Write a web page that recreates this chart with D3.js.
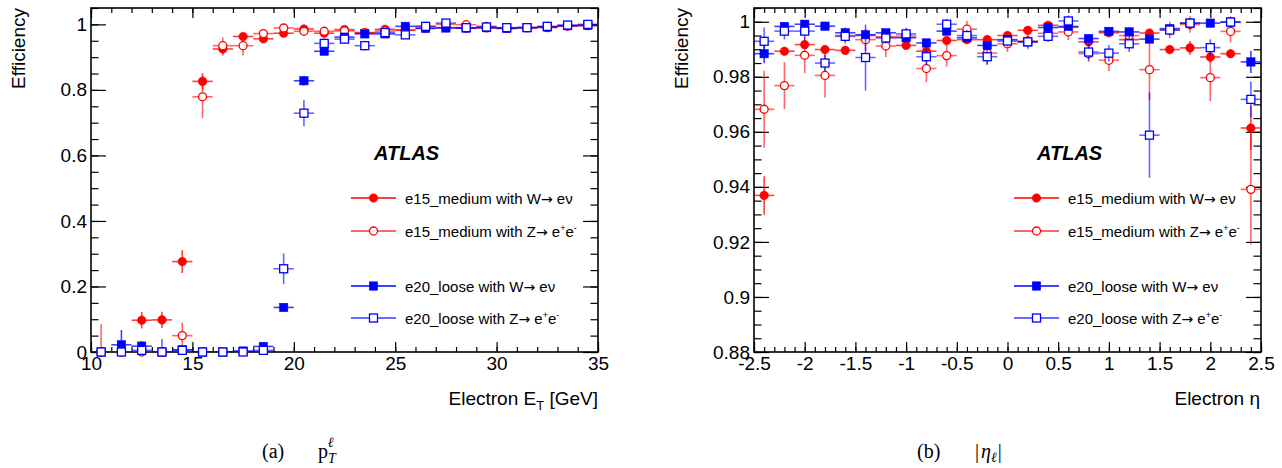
<!DOCTYPE html>
<html><head><meta charset="utf-8">
<script src="https://cdn.jsdelivr.net/npm/d3@7"></script>
<style>body{margin:0;background:#fff}svg{display:block}text{font-family:"Liberation Sans",Arial,sans-serif}</style>
</head><body>
<svg id="c" width="1282" height="468"></svg>
<script>
// ---------- DATA ----------
const etBins = [10.5,11.5,12.5,13.5,14.5,15.5,16.5,17.5,18.5,19.5,20.5,21.5,22.5,23.5,24.5,25.5,26.5,27.5,28.5,29.5,30.5,31.5,32.5,33.5,34.5];
const etRedW   = [0,0,0.097,0.098,0.276,0.826,0.925,0.963,0.956,0.973,0.986,0.973,0.984,0.974,0.985,0.982,0.988,0.990,0.988,0.989,0.988,0.990,0.992,0.995,0.996];
const etRedWErr= [0.005,0.005,0.025,0.025,0.035,0.025,0.02,0.01,0.008,0.006,0.005,0.005,0.005,0.004,0.004,0.004,0.004,0.004,0.003,0.003,0.003,0.003,0.003,0.003,0.003];
const etRedZ   = [0,0,0,0,0.05,0.779,0.935,0.935,0.972,0.989,0.979,0.979,0.980,0.975,0.980,0.983,0.994,1.000,0.999,0.994,0.988,0.990,0.990,0.995,0.998];
const etRedZErr= [0.085,0.01,0.01,0.01,0.04,0.065,0.025,0.03,0.012,0.008,0.008,0.007,0.006,0.006,0.005,0.005,0.005,0.004,0.004,0.004,0.004,0.004,0.004,0.004,0.004];
const etBluW   = [0,0.022,0.018,0,0.007,0,0,0.003,0.017,0.136,0.828,0.918,0.961,0.971,0.971,0.994,0.988,0.989,0.989,0.990,0.988,0.990,0.992,0.996,0.997];
const etBluWErr= [0.005,0.045,0.015,0.01,0.01,0.008,0.008,0.008,0.008,0.012,0.015,0.008,0.006,0.005,0.004,0.004,0.003,0.003,0.003,0.003,0.003,0.003,0.003,0.003,0.003];
const etBluZ   = [0,0,0.005,0,0.005,0,0,0,0.005,0.254,0.729,0.942,0.955,0.935,0.975,0.968,0.994,1.004,0.990,0.992,0.990,0.990,0.994,0.998,1.000];
const etBluZErr= [0.01,0.01,0.01,0.04,0.01,0.01,0.01,0.01,0.01,0.047,0.04,0.015,0.015,0.015,0.008,0.008,0.006,0.005,0.005,0.005,0.005,0.005,0.005,0.005,0.005];

const etaBins = [-2.4,-2.2,-2.0,-1.8,-1.6,-1.4,-1.2,-1.0,-0.8,-0.6,-0.4,-0.2,0,0.2,0.4,0.6,0.8,1.0,1.2,1.4,1.6,1.8,2.0,2.2,2.4];
const etaRedW   = [0.9369,0.9893,0.9917,0.9899,0.9896,0.9950,0.9945,0.9914,0.9893,0.9932,0.9935,0.9935,0.9950,0.9969,0.9987,0.9980,0.9927,0.9960,0.9935,0.9959,0.9899,0.9905,0.9872,0.9884,0.9614];
const etaRedWErr= [0.007,0.0015,0.0015,0.0015,0.0015,0.0015,0.0015,0.0015,0.0015,0.0015,0.0015,0.0015,0.0015,0.0015,0.0015,0.0015,0.0015,0.0015,0.0015,0.0015,0.0015,0.0025,0.002,0.0015,0.008];
const etaRedZ   = [0.9682,0.9768,0.9878,0.9805,0.9950,0.9935,0.9912,0.9948,0.9830,0.9877,0.9973,0.9886,0.9920,0.9930,0.9958,0.9963,0.9884,0.9860,0.9950,0.9826,0.9970,0.9990,0.9797,0.9965,0.9391];
const etaRedZErr= [0.014,0.0085,0.0065,0.008,0.003,0.004,0.004,0.003,0.005,0.004,0.003,0.004,0.003,0.003,0.003,0.003,0.003,0.004,0.003,0.011,0.003,0.003,0.0085,0.004,0.02];
const etaBluW   = [0.9884,0.9983,0.9991,0.9984,0.9960,0.9953,0.9960,0.9942,0.9923,0.9966,0.9942,0.9914,0.9935,0.9927,0.9979,0.9983,0.9939,0.9965,0.9963,0.9937,0.9975,0.9995,0.9995,0.9999,0.9854];
const etaBluWErr= [0.0035,0.001,0.001,0.001,0.001,0.001,0.001,0.001,0.001,0.001,0.001,0.001,0.001,0.001,0.001,0.001,0.001,0.001,0.001,0.001,0.001,0.001,0.001,0.001,0.004];
const etaBluZ   = [0.9929,0.9966,0.9966,0.9850,0.9947,0.9870,0.9941,0.9956,0.9873,0.9991,0.9950,0.9873,0.9930,0.9927,0.9947,1.0003,0.9890,0.9886,0.9920,0.9588,0.9970,0.9995,0.9906,0.9999,0.9718];
const etaBluZErr= [0.005,0.003,0.003,0.003,0.002,0.012,0.002,0.002,0.003,0.002,0.002,0.003,0.002,0.002,0.002,0.002,0.003,0.003,0.003,0.0155,0.002,0.002,0.003,0.002,0.0065];

const legendTriggers = ["e15_medium","e15_medium","e20_loose","e20_loose"];
const legendBosons = ["W","Z","W","Z"];

// ---------- DRAW ----------
const svg = d3.select("#c");
const RED="#ff0000", BLUE="#0000ff";

function marker(g, cx, cy, s){
  if(s.shape==="circle"){
    g.append("circle").attr("cx",cx).attr("cy",cy).attr("r",s.fill?4.3:4)
      .attr("fill",s.fill?s.c:"#fff").attr("stroke",s.c).attr("stroke-width",s.fill?0.5:1.3);
  } else {
    const h = s.fill?4.2:4;
    g.append("rect").attr("x",cx-h).attr("y",cy-h).attr("width",2*h).attr("height",2*h)
      .attr("fill",s.fill?s.c:"#fff").attr("stroke",s.c).attr("stroke-width",s.fill?0.5:1.3);
  }
}

function panel(opt){
  const g = svg.append("g");
  const x = d3.scaleLinear().domain(opt.xd).range([opt.x0, opt.x1]);
  const y = d3.scaleLinear().domain(opt.yd).range([352, 8]);
  const id = "clip"+opt.name;
  svg.append("defs").append("clipPath").attr("id",id).append("rect")
    .attr("x",opt.x0).attr("y",8).attr("width",opt.x1-opt.x0).attr("height",344);

  const tk = (axis, tr, size) => {
    const a = g.append("g").attr("transform",tr).call(axis.tickSize(size).tickSizeOuter(0));
    a.select(".domain").remove();
    a.selectAll("line").attr("stroke","#000").attr("stroke-width",1.2);
    return a;
  };
  const xMaj = d3.range(opt.xd[0], opt.xd[1]+1e-9, opt.xMajor);
  const xMin = d3.range(opt.xd[0], opt.xd[1]+1e-9, opt.xMinor);
  const yMaj = opt.yMajVals;
  const yMin = d3.range(opt.yd[0], opt.yd[1]+1e-9, opt.yMinor).map(v=>+v.toFixed(4));
  tk(d3.axisBottom(x).tickValues(xMin).tickFormat(""), "translate(0,352)", -5);
  const xb = tk(d3.axisBottom(x).tickValues(xMaj).tickFormat(opt.xfmt).tickPadding(5), "translate(0,352)", -10);
  xb.selectAll("text").attr("font-size",19).attr("fill","#000");
  tk(d3.axisTop(x).tickValues(xMin).tickFormat(""), "translate(0,8)", -5);
  tk(d3.axisTop(x).tickValues(xMaj).tickFormat(""), "translate(0,8)", -10);
  tk(d3.axisLeft(y).tickValues(yMin).tickFormat(""), `translate(${opt.x0},0)`, -7.5);
  const yl = tk(d3.axisLeft(y).tickValues(yMaj).tickFormat(opt.yfmt).tickPadding(4), `translate(${opt.x0},0)`, -15);
  yl.selectAll("text").attr("font-size",19).attr("fill","#000");
  tk(d3.axisRight(y).tickValues(yMin).tickFormat(""), `translate(${opt.x1},0)`, -7.5);
  tk(d3.axisRight(y).tickValues(yMaj).tickFormat(""), `translate(${opt.x1},0)`, -15);

  g.append("rect").attr("x",opt.x0).attr("y",8).attr("width",opt.x1-opt.x0).attr("height",344)
    .attr("fill","none").attr("stroke","#000").attr("stroke-width",1.6);

  const series = [
    {v:opt.rw, e:opt.rwe, c:RED, shape:"circle", fill:true, op:0.75},
    {v:opt.rz, e:opt.rze, c:RED, shape:"circle", fill:false, op:0.6},
    {v:opt.bw, e:opt.bwe, c:BLUE, shape:"square", fill:true, op:0.75},
    {v:opt.bz, e:opt.bze, c:BLUE, shape:"square", fill:false, op:0.6}
  ];
  const hw = opt.halfW;
  series.forEach(s=>{
    const sg = g.append("g");
    const eb = sg.append("g").attr("clip-path",`url(#${id})`).attr("stroke",s.c).attr("stroke-opacity",s.op).attr("stroke-width",1.6);
    opt.bins.forEach((b,i)=>{
      eb.append("line").attr("x1",x(b-hw)).attr("x2",x(b+hw)).attr("y1",y(s.v[i])).attr("y2",y(s.v[i]));
      eb.append("line").attr("x1",x(b)).attr("x2",x(b)).attr("y1",y(s.v[i]-s.e[i])).attr("y2",y(s.v[i]+s.e[i]));
    });
    opt.bins.forEach((b,i)=> marker(sg, x(b), y(s.v[i]), s));
  });

  g.append("text").attr("x",opt.atlasX).attr("y",159.5).attr("font-size",20).attr("font-weight","bold")
    .attr("font-style","italic").text("ATLAS");

  const rows=[198,231,286,318];
  rows.forEach((ry,i)=>{
    const s = series[i];
    g.append("line").attr("x1",opt.legX).attr("x2",opt.legX+45).attr("y1",ry).attr("y2",ry)
      .attr("stroke", s.fill? s.c : (s.c===RED?"#f86a6a":"#6a6aff")).attr("stroke-width", s.fill?1.3:2.2);
    marker(g, opt.legX+22.5, ry, s);
    const t = g.append("text").attr("x",opt.legX+54).attr("y",ry+5.5).attr("font-size",15).attr("fill","#000")
      .text(legendTriggers[i]+" with "+legendBosons[i]);
    t.append("tspan").style("font-family",'"DejaVu Sans",sans-serif').attr("font-size",14).text("\u2192");
    if(legendBosons[i]==="W"){
      t.append("tspan").text(" e\u03bd");
    } else {
      t.append("tspan").text(" e");
      t.append("tspan").attr("font-size",9).attr("dy",-6).text("+");
      t.append("tspan").attr("font-size",15).attr("dy",6).text("e");
      t.append("tspan").attr("font-size",9).attr("dy",-6).text("-");
    }
  });

  g.append("text").attr("transform",`translate(${opt.effX},8) rotate(-90)`).attr("text-anchor","end")
    .attr("font-size",19).text("Efficiency");
  return {g,x,y};
}

panel({name:"a", x0:91, x1:598, xd:[10,35], yd:[0,1.05], xMajor:5, xMinor:1,
  yMajVals:[0,0.2,0.4,0.6,0.8,1], yMinor:0.05, xfmt:d3.format("d"), yfmt:d=>d===1?"1":(d===0?"0":d3.format(".1f")(d)),
  bins:etBins, halfW:0.5, rw:etRedW, rwe:etRedWErr, rz:etRedZ, rze:etRedZErr, bw:etBluW, bwe:etBluWErr, bz:etBluZ, bze:etBluZErr,
  atlasX:374, legX:351, effX:25});
panel({name:"b", x0:754, x1:1261, xd:[-2.5,2.5], yd:[0.88,1.005], xMajor:0.5, xMinor:0.1,
  yMajVals:[0.88,0.9,0.92,0.94,0.96,0.98,1], yMinor:0.005, xfmt:d=>{const r=Math.round(d*10)/10; return r===0?"0":String(r);}, yfmt:d=>{const r=Math.round(d*100)/100; return String(r);},
  bins:etaBins, halfW:0.1, rw:etaRedW, rwe:etaRedWErr, rz:etaRedZ, rze:etaRedZErr, bw:etaBluW, bwe:etaBluWErr, bz:etaBluZ, bze:etaBluZErr,
  atlasX:1037, legX:1014, effX:688});

// x axis titles
const tA = svg.append("text").attr("x",598).attr("y",405).attr("text-anchor","end").attr("font-size",19).text("Electron E");
tA.append("tspan").attr("font-size",13).attr("dy",5).text("T");
tA.append("tspan").attr("font-size",19).attr("dy",-5).text(" [GeV]");
svg.append("text").attr("x",1260).attr("y",405).attr("text-anchor","end").attr("font-size",19).text("Electron \u03b7");

// captions
const cf = '"Liberation Serif","Times New Roman",serif';
svg.append("text").attr("x",262).attr("y",458).attr("font-size",20).style("font-family",cf).text("(a)");
const ca = svg.append("text").attr("x",318).attr("y",458).attr("font-size",20).style("font-family",cf).text("p");
ca.append("tspan").attr("font-size",14).attr("font-style","italic").attr("dy",5).text("T");
ca.append("tspan").attr("font-size",14).attr("font-style","italic").attr("dx",-8).attr("dy",-16).text("\u2113");
svg.append("text").attr("x",917).attr("y",458).attr("font-size",20).style("font-family",cf).text("(b)");
const cb = svg.append("text").attr("x",975).attr("y",458).attr("font-size",20).style("font-family",cf).text("|");
cb.append("tspan").attr("font-style","italic").attr("dx",2).text("\u03b7");
cb.append("tspan").attr("font-size",14).attr("font-style","italic").attr("dy",4).text("\u2113");
cb.append("tspan").attr("dx",1).attr("dy",-4).text("|");
</script>
</body></html>
